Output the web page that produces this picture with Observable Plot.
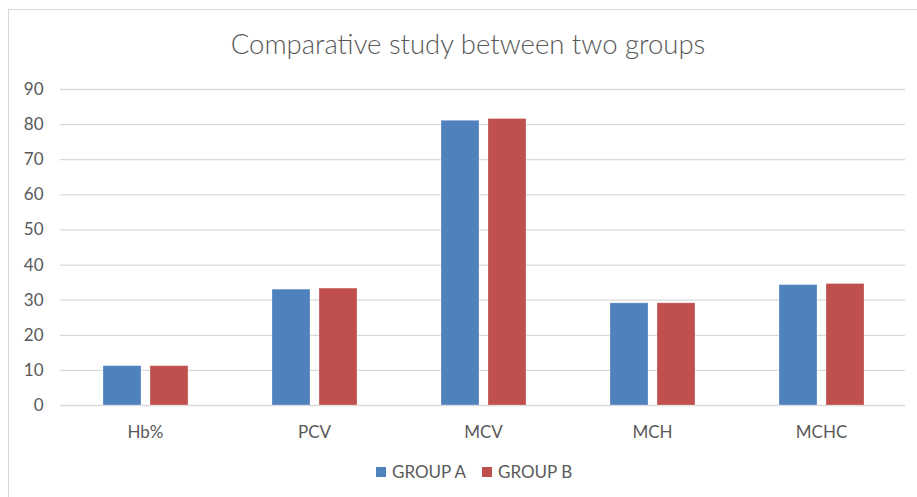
<!DOCTYPE html>
<html>
<head>
<meta charset="utf-8">
<script src="https://cdn.jsdelivr.net/npm/d3@7"></script>
<script src="https://cdn.jsdelivr.net/npm/@observablehq/plot@0.6"></script>
<style>
  html, body { margin: 0; padding: 0; background: #fff; overflow: hidden; }
  #wrap { position: relative; width: 917px; height: 497px; overflow: hidden; background: #fff; }
  #border { position: absolute; left: 8px; top: 9px; width: 1000px; height: 1000px; border: 1.5px solid #d9d9d9; box-sizing: border-box; }
  #title { position: absolute; left: 0; top: 30px; width: 936px; text-align: center; font-family: Lato, sans-serif; font-weight: 300; font-size: 27.5px; line-height: 1; color: #595959; white-space: nowrap; }
  .layer { position: absolute; left: 0; top: 0; }
  .legend { position: absolute; font-family: Lato, sans-serif; font-size: 17px; line-height: 1; color: #595959; white-space: nowrap; }
  .sw { position: absolute; width: 10px; height: 10px; }
</style>
</head>
<body>
<div id="wrap">
  <div id="border"></div>
  <div id="base" class="layer"></div>
  <div id="bars" class="layer"></div>
  <div id="title"></div>
  <div id="legend"></div>
</div>
<script>
const titleText = "Comparative study between two groups";
const categories = ["Hb%", "PCV", "MCV", "MCH", "MCHC"];
const groups = ["GROUP A", "GROUP B"];
const groupA = [11.2, 33.0, 81.1, 29.1, 34.3];
const groupB = [11.2, 33.3, 81.6, 29.1, 34.6];
const yTicks = [0, 10, 20, 30, 40, 50, 60, 70, 80, 90];
const colors = ["#4F81BD", "#C0504D"];

const data = categories.flatMap((c, i) => [
  {category: c, group: groups[0], value: groupA[i]},
  {category: c, group: groups[1], value: groupB[i]}
]);

document.getElementById("title").textContent = titleText;

const common = {
  width: 917,
  height: 497,
  marginLeft: 60,
  marginRight: 12,
  marginTop: 89,
  marginBottom: 92,
  style: {fontFamily: "Lato, sans-serif", fontSize: "17px", color: "#595959", background: "transparent", overflow: "visible"}
};
const catScale = {domain: categories, paddingInner: 0.493, paddingOuter: 0.2465, label: null, tickSize: 0, tickPadding: 20};
const yScale = {domain: [0, 90], ticks: yTicks, tickSize: 0, tickPadding: 17, label: null};

// Base layer: gridlines, y axis and category axis
const base = Plot.plot({
  ...common,
  x: catScale,
  y: yScale,
  marks: [
    Plot.ruleY(yTicks, {stroke: "#d9d9d9", strokeWidth: 1.3})
  ]
});
document.getElementById("base").appendChild(base);

// Bar layer: same category bands, grouped bars inside each band
const bars = Plot.plot({
  ...common,
  fx: {...catScale, axis: null},
  x: {domain: groups, paddingInner: 0.2, paddingOuter: 0, axis: null},
  y: {...yScale, axis: null},
  color: {domain: groups, range: colors},
  marks: [
    Plot.barY(data, {fx: "category", x: "group", y: "value", fill: "group", stroke: "#ffffff", strokeOpacity: 0.35, strokeWidth: 0.8})
  ]
});
document.getElementById("bars").appendChild(bars);

// Legend
const legend = document.getElementById("legend");
const legendX = [376, 482];
groups.forEach((g, i) => {
  const sw = document.createElement("div");
  sw.className = "sw";
  sw.style.left = legendX[i] + "px";
  sw.style.top = "467px";
  sw.style.background = colors[i];
  legend.appendChild(sw);
  const t = document.createElement("div");
  t.className = "legend";
  t.style.left = (legendX[i] + 16) + "px";
  t.style.top = "463px";
  t.textContent = g;
  legend.appendChild(t);
});
</script>
</body>
</html>
